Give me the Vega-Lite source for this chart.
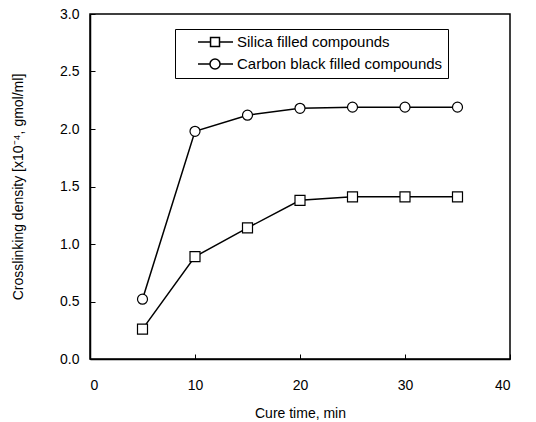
{
  "$schema": "https://vega.github.io/schema/vega-lite/v6.json",
  "width": 420,
  "height": 345,
  "autosize": {"type": "none"},
  "padding": {"left": 90, "top": 14, "right": 26, "bottom": 63},
  "background": "white",
  "config": {
    "font": "Liberation Sans",
    "view": {"stroke": "black", "strokeWidth": 1.5},
    "axis": {
      "grid": false,
      "domain": true,
      "domainColor": "black",
      "domainWidth": 1.5,
      "tickColor": "black",
      "tickSize": -5,
      "tickWidth": 1,
      "labelColor": "black",
      "labelFontSize": 14,
      "titleColor": "black",
      "titleFontSize": 14,
      "titleFontWeight": "normal"
    }
  },
  "data": {
    "values": [
      {"time": 5, "density": 0.26, "series": "Silica filled compounds"},
      {"time": 10, "density": 0.89, "series": "Silica filled compounds"},
      {"time": 15, "density": 1.14, "series": "Silica filled compounds"},
      {"time": 20, "density": 1.38, "series": "Silica filled compounds"},
      {"time": 25, "density": 1.41, "series": "Silica filled compounds"},
      {"time": 30, "density": 1.41, "series": "Silica filled compounds"},
      {"time": 35, "density": 1.41, "series": "Silica filled compounds"},
      {"time": 5, "density": 0.52, "series": "Carbon black filled compounds"},
      {"time": 10, "density": 1.98, "series": "Carbon black filled compounds"},
      {"time": 15, "density": 2.12, "series": "Carbon black filled compounds"},
      {"time": 20, "density": 2.18, "series": "Carbon black filled compounds"},
      {"time": 25, "density": 2.19, "series": "Carbon black filled compounds"},
      {"time": 30, "density": 2.19, "series": "Carbon black filled compounds"},
      {"time": 35, "density": 2.19, "series": "Carbon black filled compounds"}
    ]
  },
  "encoding": {
    "x": {
      "field": "time",
      "type": "quantitative",
      "scale": {"domain": [0, 40], "nice": false},
      "axis": {"values": [0, 10, 20, 30, 40], "title": "Cure time, min", "labelPadding": 24, "titlePadding": 14}
    },
    "y": {
      "field": "density",
      "type": "quantitative",
      "scale": {"domain": [0, 3], "nice": false},
      "axis": {"values": [0, 0.5, 1, 1.5, 2, 2.5, 3], "format": ".1f", "title": "Crosslinking density [x10⁻⁴, gmol/ml]", "labelPadding": 16, "titlePadding": 34}
    }
  },
  "layer": [
    {
      "mark": {"type": "line", "color": "black", "strokeWidth": 1.5},
      "encoding": {
        "detail": {"field": "series"}
      }
    },
    {
      "mark": {"type": "point", "filled": true, "fill": "white", "stroke": "black", "strokeWidth": 1.2, "size": 100, "opacity": 1},
      "encoding": {
        "shape": {
          "field": "series",
          "type": "nominal",
          "scale": {"domain": ["Silica filled compounds", "Carbon black filled compounds"], "range": ["square", "circle"]},
          "legend": null
        }
      }
    },
    {
      "mark": {"type": "point", "filled": false, "stroke": "black", "strokeWidth": 1.2, "size": 196, "opacity": 0},
      "encoding": {
        "shape": {
          "field": "series",
          "type": "nominal",
          "scale": {
            "domain": ["Silica filled compounds", "Carbon black filled compounds"],
            "range": [
              "M1.43,0L3.22,0M4.5,0L6.43,0M3.22,-0.64L4.5,-0.64L4.5,0.64L3.22,0.64Z",
              "M1.43,0L3.14,0M4.58,0L6.43,0M3.14,0A0.72,0.72,0,1,1,4.58,0A0.72,0.72,0,1,1,3.14,0Z"
            ]
          },
          "legend": {
            "title": null,
            "orient": "none",
            "legendX": 85,
            "legendY": 15,
            "strokeColor": "black",
            "fillColor": "white",
            "padding": 5,
            "labelFontSize": 15,
            "labelColor": "black",
            "labelLimit": 400,
            "rowPadding": 5,
            "symbolSize": 196,
            "labelOffset": 41,
            "encode": {
              "symbols": {
                "update": {
                  "opacity": {"value": 1},
                  "stroke": {"value": "black"},
                  "fill": {"value": "white"},
                  "strokeWidth": {"value": 1.2}
                }
              }
            }
          }
        }
      }
    }
  ],
  "resolve": {"scale": {"shape": "independent"}, "legend": {"shape": "independent"}}
}
